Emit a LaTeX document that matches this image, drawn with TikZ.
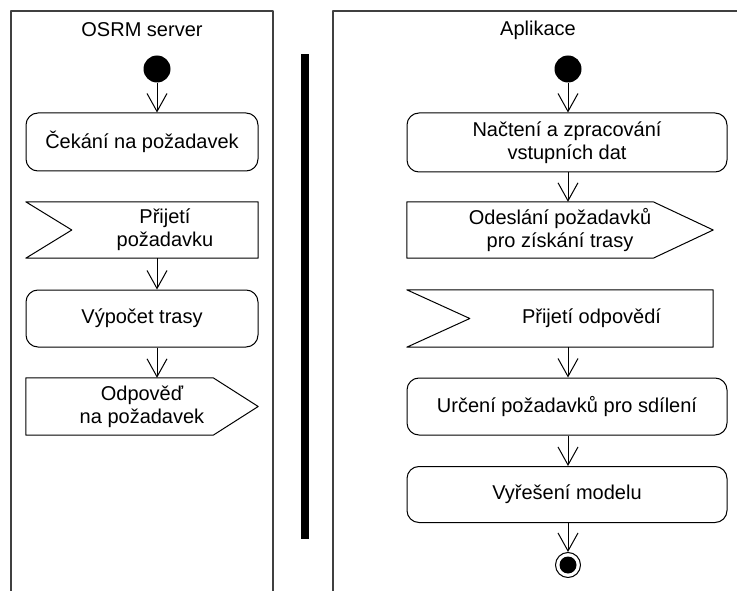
\documentclass[tikz,border=0pt]{standalone}
\usepackage{fontspec}
\setmainfont{Liberation Sans}
\usetikzlibrary{arrows.meta}

\begin{document}
\begin{tikzpicture}[line join=round, x=1pt, y=-1pt,
        font=\fontsize{20}{23}\selectfont,
        lane/.style={draw=black!75, line width=1.8pt},
        action/.style={draw, rounded corners=12pt, line width=1pt, minimum width=320pt,
            minimum height=58pt, inner sep=0pt, align=center},
        sigbox/.style={minimum height=56pt, inner sep=0pt, align=center},
        sigline/.style={draw, line width=1pt},
        flow/.style={-{Straight Barb[length=18pt, width=20pt]}, line width=1pt},
        startdot/.style={circle, fill=black, minimum size=27pt, inner sep=0pt}]
    \useasboundingbox (0, 0) rectangle (737, 591);

    % Swimlanes
    \draw[lane] (11, 591) -- (11, 11) -- (273, 11) -- (273, 591);
    \draw[lane] (333, 591) -- (333, 11) -- (737, 11);
    \node (srvtitle) at (142, 30) {OSRM server};
    \node (apptitle) at (538, 30) {Aplikace};
    \fill (301, 54) rectangle (309, 539);

    % OSRM server
    \node[startdot] (srvstart) at (157, 69) {};
    \node[action, minimum width=232pt] (wait) at (142, 142) {Čekání na požadavek};
    \node[sigbox, minimum width=186pt] (recvreq) at (165, 230) {Přijetí\\požadavku};
    \draw[sigline] (recvreq.north east) -- (recvreq.south east)
        -- ([xshift=-46pt]recvreq.south west) -- (recvreq.west)
        -- ([xshift=-46pt]recvreq.north west) -- cycle;
    \node[action, minimum width=232pt, minimum height=57pt] (route) at (142, 318.5) {Výpočet trasy};
    \node[sigbox, minimum width=232pt, minimum height=57pt] (reply) at (142, 406.5) {Odpověď\\na požadavek};
    \draw[sigline] (reply.north west) -- ([xshift=-45pt]reply.north east) -- (reply.east)
        -- ([xshift=-45pt]reply.south east) -- (reply.south west) -- cycle;

    \draw[flow] (srvstart) -- (srvstart |- wait.north);
    \draw[flow] (recvreq.south -| srvstart) -- (route.north -| srvstart);
    \draw[flow] (route.south -| srvstart) -- (reply.north -| srvstart);

    % Aplikace
    \node[startdot] (appstart) at (568, 69) {};
    \node[action, minimum height=59pt] (load) at (567, 142.5) {Načtení a zpracování\\vstupních dat};
    \node[sigbox, minimum width=306pt] (sendreq) at (560, 230) {Odeslání požadavků\\pro získání trasy};
    \draw[sigline] (sendreq.north west) -- ([xshift=-60pt]sendreq.north east) -- (sendreq.east)
        -- ([xshift=-60pt]sendreq.south east) -- (sendreq.south west) -- cycle;
    \node[sigbox, minimum width=243pt, minimum height=57pt] (recvresp) at (591.5, 318.5) {Přijetí odpovědí};
    \draw[sigline] (recvresp.north east) -- (recvresp.south east)
        -- ([xshift=-63pt]recvresp.south west) -- (recvresp.west)
        -- ([xshift=-63pt]recvresp.north west) -- cycle;
    \node[action, minimum height=57pt] (share) at (567, 406.5) {Určení požadavků pro sdílení};
    \node[action, minimum height=56pt] (solve) at (567, 494.5) {Vyřešení modelu};
    \node[circle, draw, line width=1pt, minimum size=25pt, inner sep=0pt] (append) at (568, 565) {};
    \fill (append) circle (8.5pt);

    \draw[flow] (appstart) -- (appstart |- load.north);
    \draw[flow] (load.south -| appstart) -- (sendreq.north -| appstart);
    \draw[flow] (recvresp.south -| appstart) -- (share.north -| appstart);
    \draw[flow] (share.south -| appstart) -- (solve.north -| appstart);
    \draw[flow] (solve.south -| appstart) -- (append);
\end{tikzpicture}
\end{document}
